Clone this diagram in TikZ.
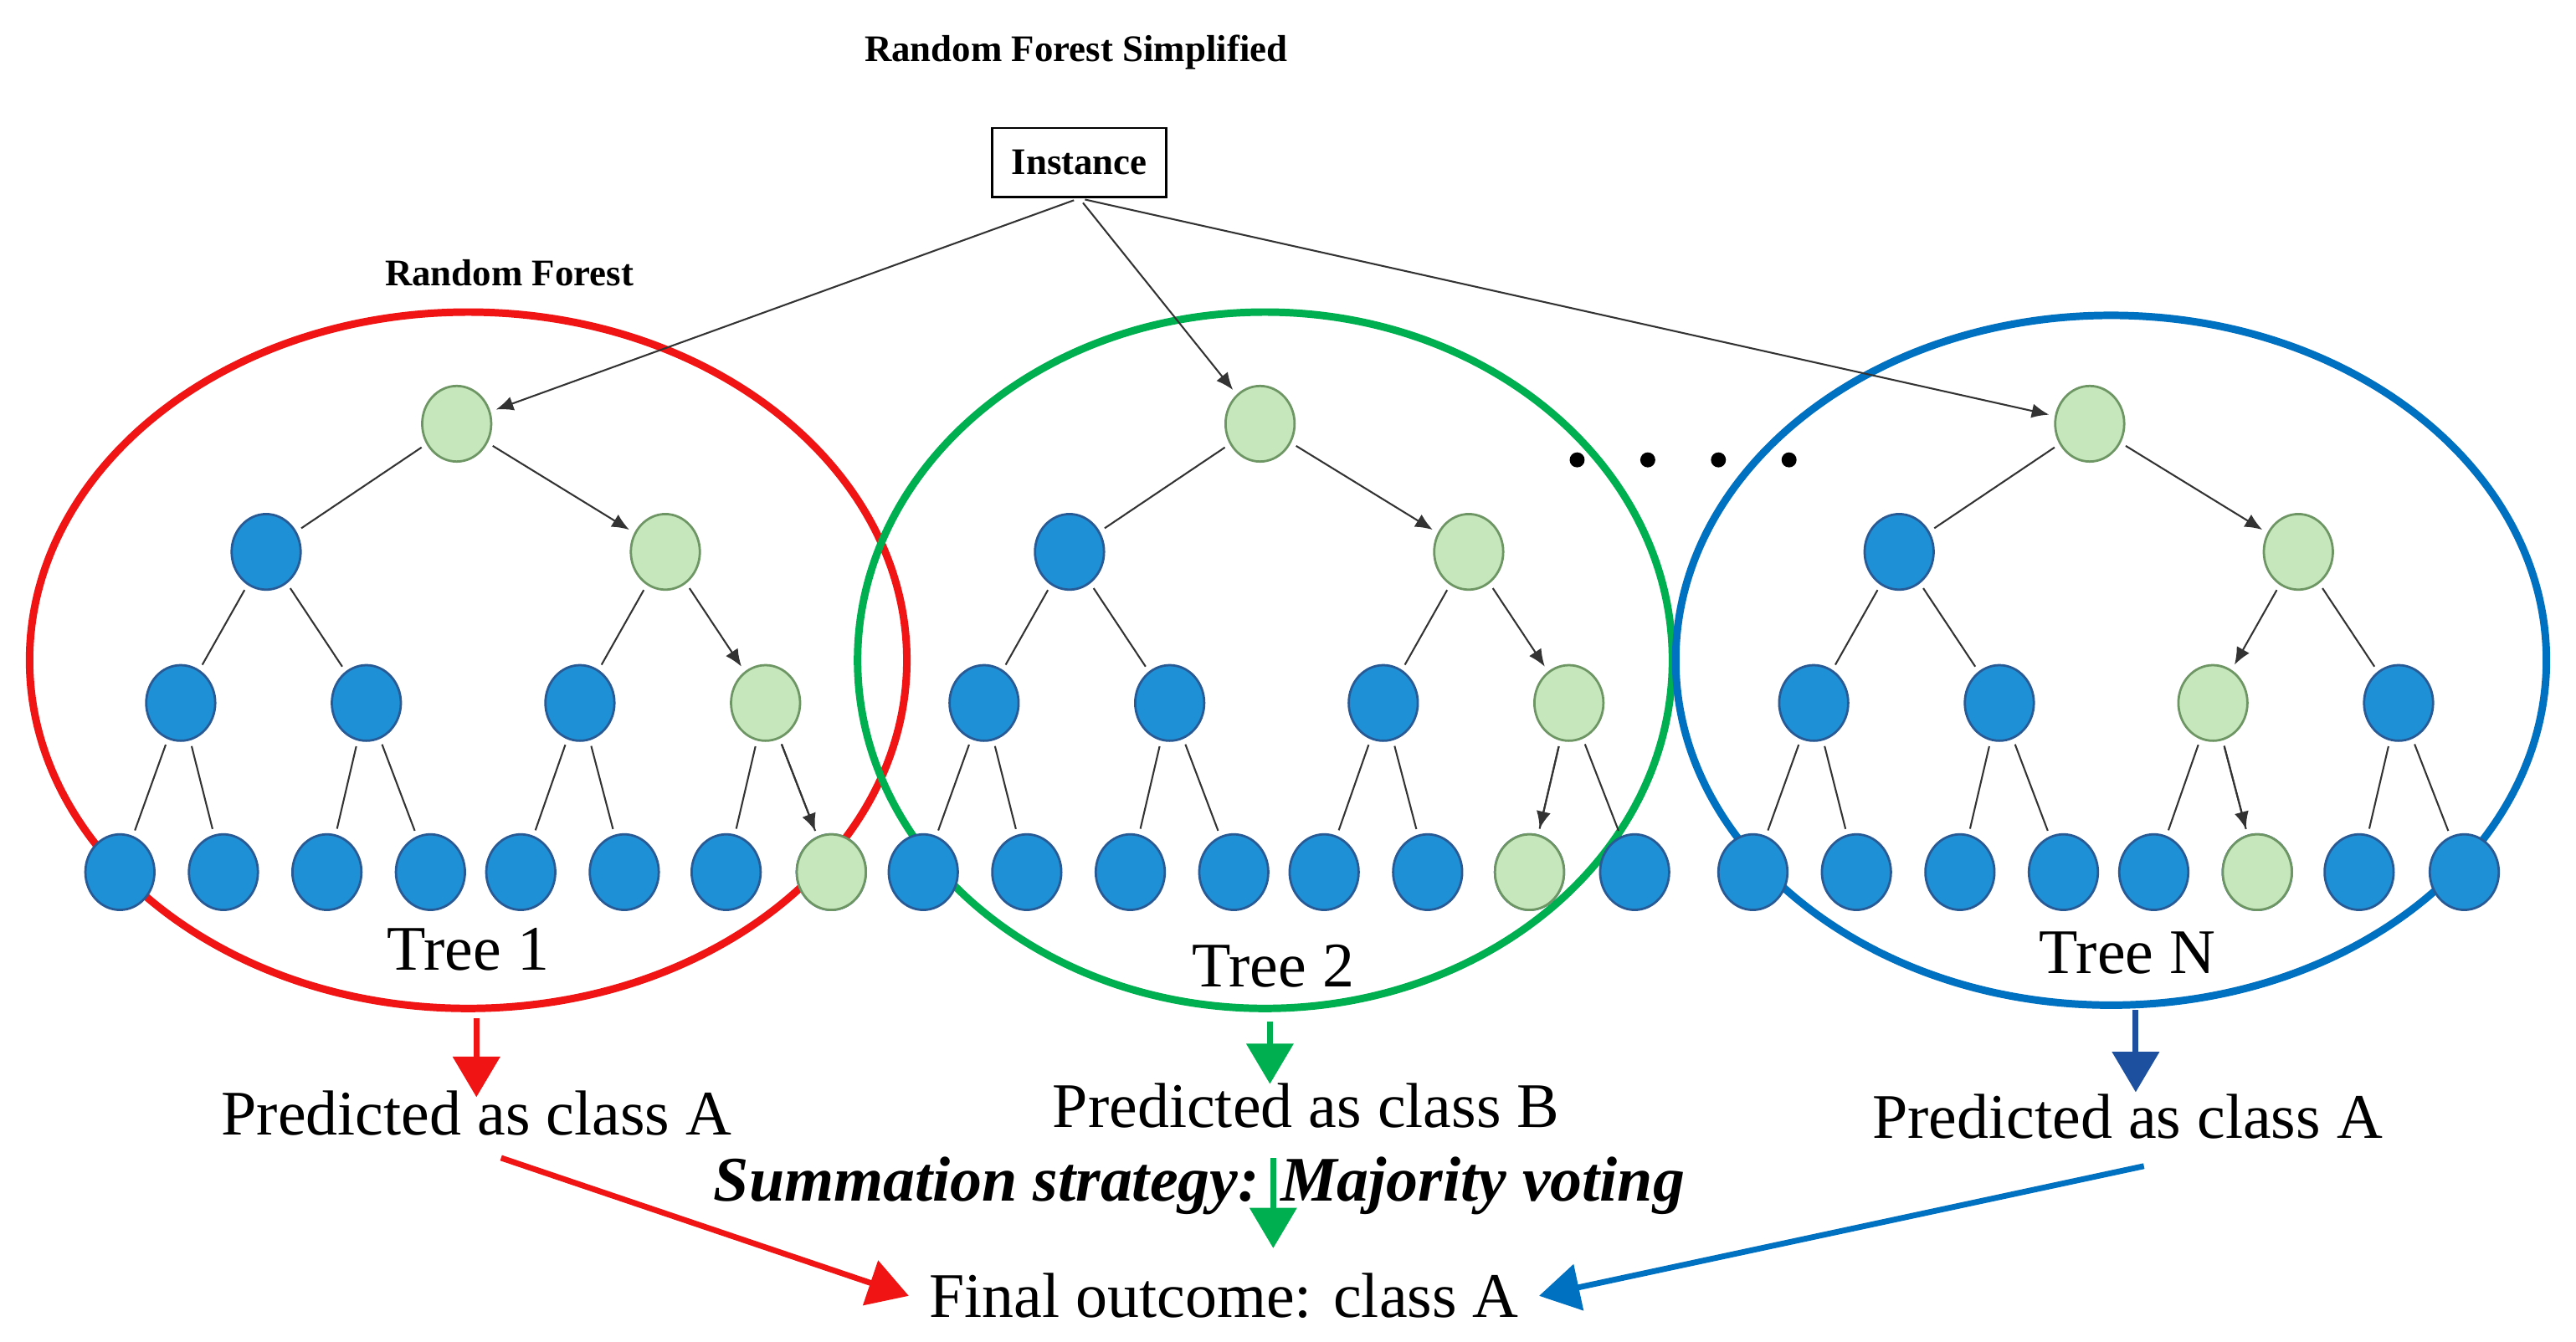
\documentclass[tikz,border=0pt]{standalone}
\usepackage{fontspec}
\setmainfont{Liberation Serif}
\usetikzlibrary{arrows.meta}
\definecolor{gfill}{RGB}{198,230,188}
\definecolor{gdraw}{RGB}{110,150,100}
\definecolor{bfill}{RGB}{30,144,214}
\definecolor{bdraw}{RGB}{40,90,150}
\definecolor{cred}{RGB}{240,20,20}
\definecolor{cgreen}{RGB}{0,176,80}
\definecolor{cblue}{RGB}{0,112,192}
\definecolor{cblue2}{RGB}{30,80,160}
\begin{document}
\begin{tikzpicture}[x=0.01cm,y=-0.01cm,
 g/.style={ellipse,draw=gdraw,fill=gfill,minimum width=0.42cm,minimum height=0.46cm,inner sep=0},
 b/.style={ellipse,draw=bdraw,fill=bfill,minimum width=0.42cm,minimum height=0.46cm,inner sep=0},
 e/.style={draw=black!80,line width=0.3pt,shorten <=1pt,shorten >=1pt},
 ea/.style={e,-{Latex[length=3pt,width=2.5pt]}},
 big/.style={font=\fontsize{11}{13}\selectfont},
 fat/.style={line width=1pt,-{Triangle[length=7pt,width=8pt]}}]
\useasboundingbox (0,0) rectangle (1568,817);
\usetikzlibrary{shapes.geometric}
\node[font=\bfseries\fontsize{6.5}{8}\selectfont] (title) at (655,32) {Random Forest Simplified};
\node[draw,font=\bfseries\fontsize{6.5}{8}\selectfont,minimum width=1.06cm,minimum height=0.42cm] (inst) at (657,99) {Instance};
\node[font=\bfseries\fontsize{6.5}{8}\selectfont] (rf) at (310,166) {Random Forest};
\draw[cred,line width=1.3pt] (285,402) ellipse [x radius=267,y radius=212];
\draw[cgreen,line width=1.3pt] (770,402) ellipse [x radius=248,y radius=212];
\draw[cblue,line width=1.3pt] (1285,402) ellipse [x radius=265,y radius=210];
% tree macro via foreach
\foreach \t/\o/\sa/\sb/\sc in {A/0/1/1/7, B/489/1/1/6, C/994/1/0/5}{
 \begin{scope}[xshift=\o*0.01cm]
 \node[g] (\t r) at (278,258) {};
 \node[b] (\t l) at (162,336) {};
 \node[g] (\t R) at (405,336) {};
 \node[b] (\t 1) at (110,428) {};
 \node[b] (\t 2) at (223,428) {};
 \end{scope}
}
% tree A level3 right
\node[b] (A3) at (353,428) {}; \node[g] (A4) at (466,428) {};
\node[b] (B3) at (842,428) {}; \node[g] (B4) at (955,428) {};
\node[g] (C3) at (1347,428) {}; \node[b] (C4) at (1460,428) {};
\foreach \t/\o in {A/0,B/489,C/994}{
 \foreach \i/\x in {1/73,2/136,3/199,4/262,5/317,6/380,7/442,8/506}{
  \pgfmathsetmacro\xx{\x+\o}
  \node[b] (\t L\i) at (\xx,531) {};
 }
}
\node[g] at (AL8) {}; \node[g] at (BL7) {}; \node[g] at (CL6) {};
\foreach \t in {A,B,C}{
 \draw[e] (\t r)--(\t l); \draw[ea] (\t r)--(\t R);
 \draw[e] (\t l)--(\t 1); \draw[e] (\t l)--(\t 2);
 \draw[e] (\t 1)--(\t L1); \draw[e] (\t 1)--(\t L2);
 \draw[e] (\t 2)--(\t L3); \draw[e] (\t 2)--(\t L4);
 \draw[e] (\t 3)--(\t L5); \draw[e] (\t 3)--(\t L6);
 \draw[e] (\t 4)--(\t L7); \draw[e] (\t 4)--(\t L8);
}
\draw[e] (AR)--(A3); \draw[ea] (AR)--(A4); \draw[ea] (A4)--(AL8);
\draw[e] (BR)--(B3); \draw[ea] (BR)--(B4); \draw[ea] (B4)--(BL7);
\draw[ea] (CR)--(C3); \draw[e] (CR)--(C4); \draw[ea] (C3)--(CL6);
\draw[ea] (inst.south)--(Ar); \draw[ea] (inst.south)--(Br); \draw[ea] (inst.south)--(Cr);
\foreach \x in {960,1003,1046,1089} \fill (\x,280) circle (1.3pt);
\node[big] (t1) at (285,578) {Tree 1};
\node[big] (t2) at (775,588) {Tree 2};
\node[big] (tn) at (1295,580) {Tree N};
\node[big] (p1) at (290,678) {Predicted as class A};
\node[big] (p2) at (795,673) {Predicted as class B};
\node[big] (p3) at (1295,680) {Predicted as class A};
\node[big,font=\bfseries\itshape\fontsize{11}{13}\selectfont] (sum) at (730,722) {Summation strategy: Majority voting};
\node[big] (fin) at (745,789) {Final outcome: class A};
\coordinate (a1) at (290,620); \coordinate (a1e) at (290,668);
\coordinate (a2) at (773,622); \coordinate (a2e) at (773,660);
\coordinate (a3) at (1300,615); \coordinate (a3e) at (1300,665);
\draw[fat,cred] (a1)--(a1e);
\draw[fat,cgreen] (a2)--(a2e);
\draw[fat,cblue2] (a3)--(a3e);
\coordinate (d1) at (305,705); \coordinate (d2) at (775,705); \coordinate (d3) at (1305,710);
\draw[fat,cred] (d1)--(fin.west);
\draw[fat,cgreen] (d2)--(775,760);
\draw[fat,cblue] (d3)--(fin.east);
\end{tikzpicture}
\end{document}
